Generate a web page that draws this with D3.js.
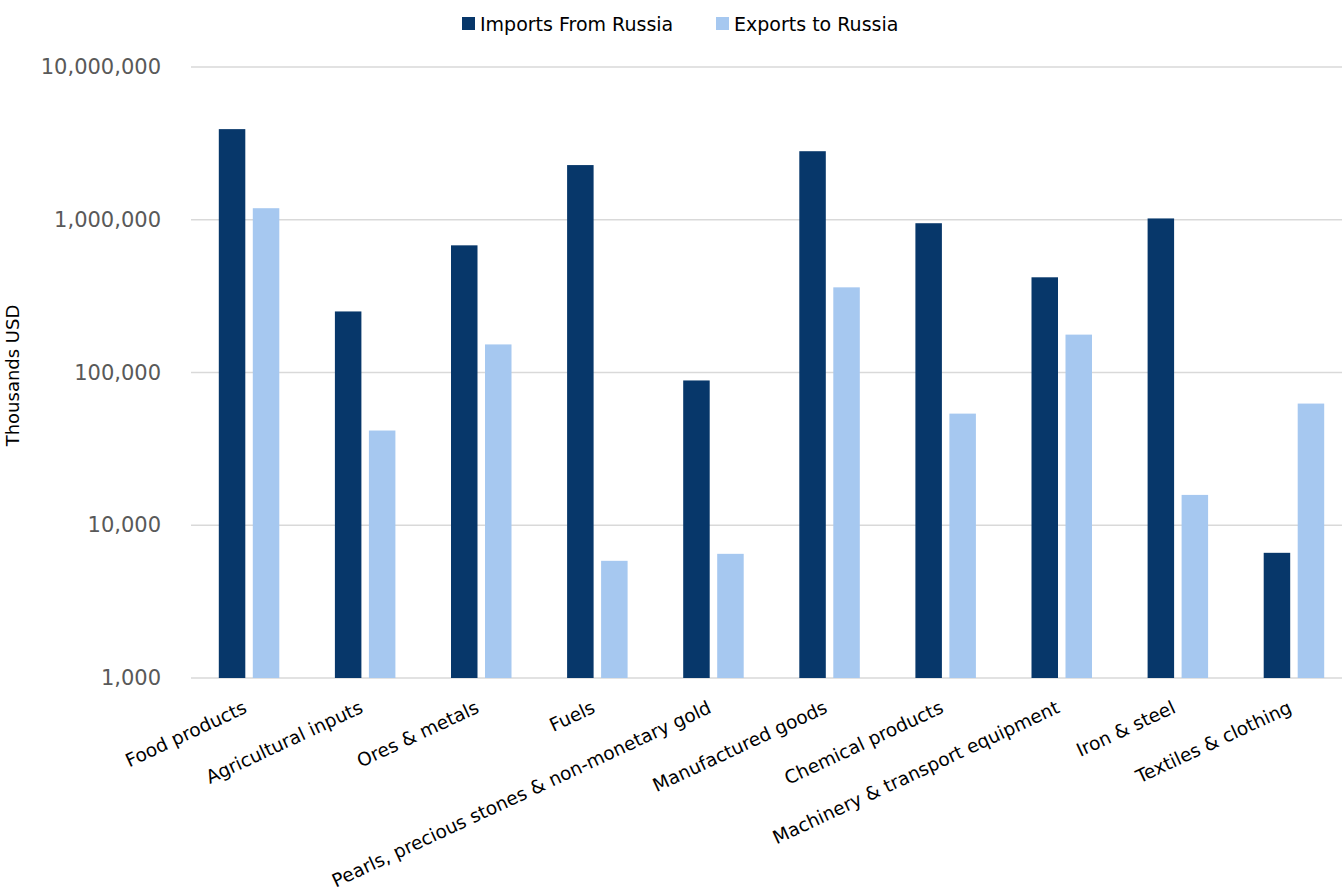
<!DOCTYPE html>
<html>
<head>
<meta charset="utf-8">
<script src="https://cdn.jsdelivr.net/npm/d3@7"></script>
<style>
  body { margin: 0; background: #fff; }
  text { font-family: "DejaVu Sans", sans-serif; }
</style>
</head>
<body>
<div id="chart-area"></div>
<script>
// trade with Russia by product group, thousands USD
const categories = ['Food products', 'Agricultural inputs', 'Ores & metals', 'Fuels',
  'Pearls, precious stones & non-monetary gold', 'Manufactured goods', 'Chemical products',
  'Machinery & transport equipment', 'Iron & steel', 'Textiles & clothing'];
const seriesNames = ['Imports From Russia', 'Exports to Russia'];
const imports = [3920000, 251000, 680000, 2280000, 88700, 2810000, 949000, 420000, 1020000, 6600];
const exports = [1190000, 41700, 152700, 5850, 6500, 361000, 53800, 177000, 15800, 62600];
const yTicks = [1000, 10000, 100000, 1000000, 10000000];

const W = 1342, H = 892;
const margin = { top: 67, left: 191, bottom: 214 };
const width = 1161; // plot runs a bit past the right edge of the picture
const height = H - margin.top - margin.bottom;
const colors = ['#07376A', '#A6C8F0'];

const svg = d3.select('#chart-area').append('svg')
  .attr('width', W)
  .attr('height', H);

const g = svg.append('g')
  .attr('transform', `translate(${margin.left}, ${margin.top})`);

// scales
const x = d3.scaleBand()
  .domain(categories)
  .range([0, width]);

const y = d3.scaleLog()
  .domain([1000, 10000000])
  .range([height, 0]);

// gridlines
g.selectAll('.grid')
  .data(yTicks)
  .enter().append('line')
  .attr('class', 'grid')
  .attr('x1', 0)
  .attr('x2', width)
  .attr('y1', d => y(d))
  .attr('y2', d => y(d))
  .attr('stroke', '#d9d9d9')
  .attr('stroke-width', 1.5);

// y axis
const yAxisCall = d3.axisLeft(y)
  .tickValues(yTicks)
  .tickFormat(d3.format(','))
  .tickSize(0)
  .tickPadding(30);
const yAxisGroup = g.append('g').call(yAxisCall);
yAxisGroup.select('.domain').remove();
yAxisGroup.selectAll('text')
  .attr('font-size', '21px')
  .attr('fill', '#595959')
  .style('font-family', '"DejaVu Sans", sans-serif');

// y axis label
g.append('text')
  .attr('x', -height / 2 - 3)
  .attr('y', -172)
  .attr('transform', 'rotate(-90)')
  .attr('text-anchor', 'middle')
  .attr('font-size', '18px')
  .attr('fill', '#000')
  .text('Thousands USD');

// bars
const barW = 26.5;
const gap = 7.5;
const series = [imports, exports];
series.forEach((vals, s) => {
  g.selectAll(`.bar-${s}`)
    .data(vals)
    .enter().append('rect')
    .attr('class', `bar-${s}`)
    .attr('x', (d, i) => x(categories[i]) + x.bandwidth() / 2 - barW - gap / 2 + s * (barW + gap))
    .attr('width', barW)
    .attr('y', d => y(d))
    .attr('height', d => height - y(d))
    .attr('fill', colors[s]);
});

// x axis labels
g.selectAll('.xlabel')
  .data(categories)
  .enter().append('text')
  .attr('class', 'xlabel')
  .attr('transform', d => `translate(${x(d) + x.bandwidth() / 2 - 1}, ${height + 34}) rotate(-25)`)
  .attr('text-anchor', 'end')
  .attr('font-size', '18.5px')
  .attr('fill', '#000')
  .text(d => d);

// legend
const legend = svg.append('g');
const legendX = [462, 716];
seriesNames.forEach((name, i) => {
  legend.append('rect')
    .attr('x', legendX[i])
    .attr('y', 17)
    .attr('width', 13)
    .attr('height', 13)
    .attr('fill', colors[i]);
  legend.append('text')
    .attr('x', legendX[i] + 18)
    .attr('y', 31)
    .attr('font-size', '19px')
    .attr('fill', '#000')
    .text(name);
});
</script>
</body>
</html>
